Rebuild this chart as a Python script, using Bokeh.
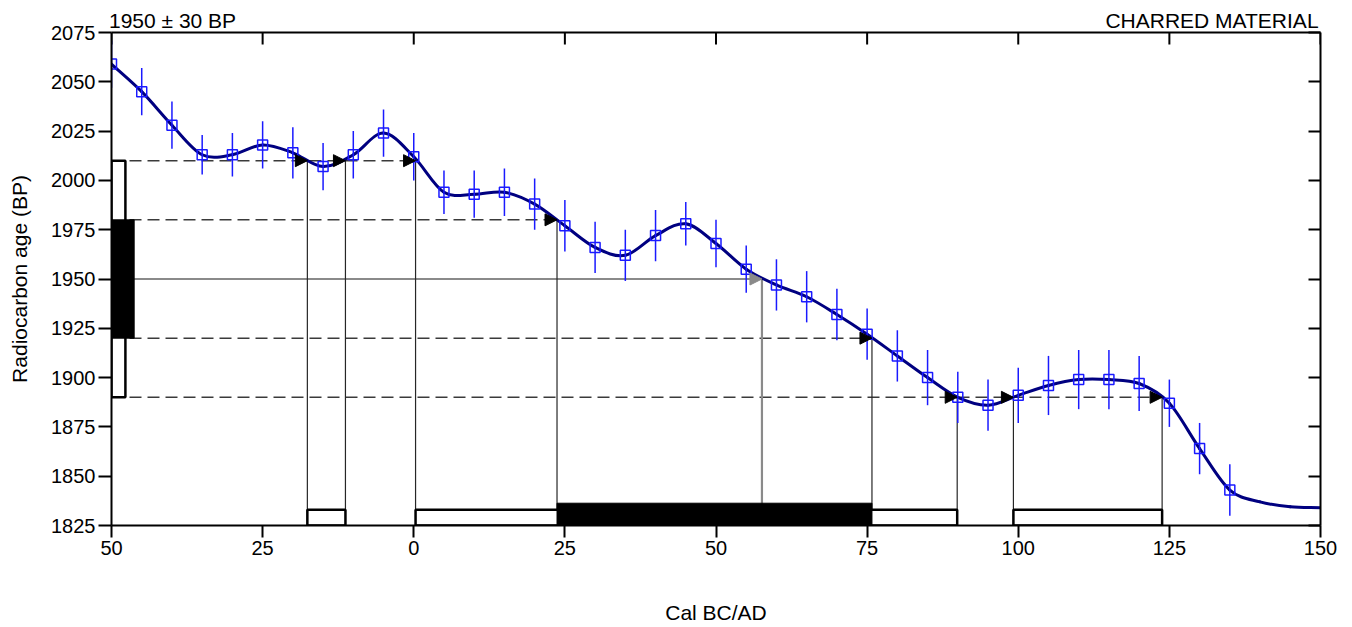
from bokeh.plotting import figure
from bokeh.models import (Range1d, LinearAxis, FixedTicker, Arrow,
                          NormalHead, ColumnDataSource)
from bokeh.embed import file_html
from bokeh.resources import INLINE

# ---------------- data ----------------
cal_years = [-50, -45, -40, -35, -30, -25, -20, -15, -10, -5, 0, 5, 10, 15, 20,
             25, 30, 35, 40, 45, 50, 55, 60, 65, 70, 75, 80, 85, 90, 95, 100,
             105, 110, 115, 120, 125, 130, 135]
bp_values = [2059, 2045, 2028, 2013, 2013, 2018, 2014, 2007, 2013, 2024, 2012,
             1994, 1993, 1994, 1988, 1977, 1966, 1962, 1972, 1978, 1968, 1955,
             1947, 1941, 1932, 1922, 1911, 1900, 1890, 1886, 1891, 1896, 1899,
             1899, 1897, 1887, 1864, 1843]
bp_errors = [12, 12, 12, 10, 11, 12, 13, 12, 12, 12, 12, 11, 12, 12, 13, 13,
             13, 13, 13, 11, 12, 12, 13, 13, 13, 13, 13, 14, 13, 13, 14, 15,
             15, 15, 14, 12, 13, 13]
curve_tail_years = [140, 145, 150]
curve_tail_bp = [1837, 1834.5, 1834]

sample_bp = 1950
sample_err = 30
sample_label = "1950 ± 30 BP"
material_label = "CHARRED MATERIAL"

cross_mean = [57.6]
cross_1s_upper = [23.7]
cross_1s_lower = [75.8]
cross_2s_upper = [-17.6, -11.3, 0.3]
cross_2s_lower = [89.9, 99.2, 123.8]
one_sigma_ranges = [(23.7, 75.8)]
two_sigma_ranges = [(-17.6, -11.3), (0.3, 89.9), (99.2, 123.8)]

x_ticks = [-50, -25, 0, 25, 50, 75, 100, 125, 150]
x_tick_labels = ["50", "25", "0", "25", "50", "75", "100", "125", "150"]
y_ticks = [1825, 1850, 1875, 1900, 1925, 1950, 1975, 2000, 2025, 2050, 2075]

FONT = "Liberation Sans"
X0, X1, Y0, Y1 = -50, 150, 1825, 2075
W, H = 1344, 626
BL, BR, BT, BB = 111, 24, 32, 101
FRAME_H = H - BT - BB
TICK_PX = 12

p = figure(width=W, height=H, x_range=Range1d(X0, X1), y_range=Range1d(Y0, Y1),
           output_backend="svg", toolbar_location=None,
           min_border_left=BL, min_border_right=BR, min_border_top=BT,
           min_border_bottom=BB,
           x_axis_label="Cal BC/AD", y_axis_label="Radiocarbon age (BP)")
p.grid.visible = False
p.outline_line_color = None
p.background_fill_color = "white"
p.border_fill_color = "white"

def style_axis(ax, ticks, inner=False):
    ax.ticker = FixedTicker(ticks=ticks)
    ax.axis_line_width = 2
    ax.axis_line_color = "black"
    ax.major_tick_line_width = 2
    ax.major_tick_line_color = "black"
    ax.minor_tick_line_color = None
    ax.major_label_text_font = FONT
    ax.major_label_text_font_size = "20px"
    ax.major_label_text_color = "black"
    if inner:
        ax.major_tick_in = TICK_PX
        ax.major_tick_out = 0
        ax.major_label_overrides = {t: "" for t in ticks}
        ax.major_label_standoff = 0
    else:
        ax.major_tick_in = 0
        ax.major_tick_out = 13
        ax.major_label_standoff = 3
    ax.axis_label_text_font = FONT
    ax.axis_label_text_font_size = "21px"
    ax.axis_label_text_font_style = "normal"
    ax.axis_label_text_color = "black"

xa = p.xaxis[0]
style_axis(xa, x_ticks)
xa.major_tick_out = 12
xa.major_label_overrides = {t: l for t, l in zip(x_ticks, x_tick_labels)}
xa.axis_label_standoff = 43
ya = p.yaxis[0]
style_axis(ya, y_ticks)
ya.axis_label_standoff = 17

right = LinearAxis()
style_axis(right, y_ticks, inner=True)
p.add_layout(right, "right")

# top axis carries the header texts (sample age left, material right)
header_pos = [-39.9, 132.05]
top = LinearAxis(ticker=FixedTicker(ticks=header_pos),
                 major_label_overrides={header_pos[0]: sample_label, header_pos[1]: material_label})
top.axis_line_width = 2
top.axis_line_color = "black"
top.major_tick_line_color = None
top.minor_tick_line_color = None
top.major_tick_in = 0
top.major_tick_out = 0
top.major_label_standoff = 1
top.major_label_text_font = FONT
top.major_label_text_font_size = "21px"
top.major_label_text_color = "black"
p.add_layout(top, "above")

# inward tick marks along the top edge
tick_len = TICK_PX * (Y1 - Y0) / FRAME_H
p.segment(x0=x_ticks, y0=[Y1] * len(x_ticks), x1=x_ticks, y1=[Y1 - tick_len] * len(x_ticks),
          line_color="black", line_width=2)

lo1, hi1 = sample_bp - sample_err, sample_bp + sample_err
lo2, hi2 = sample_bp - 2 * sample_err, sample_bp + 2 * sample_err

# dashed level lines (to last crossing)
dash_levels = [hi2, hi1, lo1, lo2]
dash_ends = [max(cross_2s_upper), max(cross_1s_upper), max(cross_1s_lower), max(cross_2s_lower)]
p.segment(x0=[X0] * 4, y0=dash_levels, x1=dash_ends, y1=dash_levels,
          line_color="#3a3a3a", line_width=1.5, line_dash="12 6")
# mean line
p.segment(x0=[X0], y0=[sample_bp], x1=cross_mean, y1=[sample_bp],
          line_color="#8a8a8a", line_width=2.2)

# vertical drop lines
vx = cross_2s_upper + cross_1s_upper + cross_1s_lower + cross_2s_lower
vy = [hi2] * len(cross_2s_upper) + [hi1] * len(cross_1s_upper) + \
     [lo1] * len(cross_1s_lower) + [lo2] * len(cross_2s_lower)
p.segment(x0=vx, y0=[Y0] * len(vx), x1=vx, y1=vy, line_color="#262626", line_width=1.2)
p.segment(x0=cross_mean, y0=[Y0], x1=cross_mean, y1=[sample_bp],
          line_color="#8a8a8a", line_width=2.2)

# bottom range boxes
p.quad(left=[a for a, b in two_sigma_ranges], right=[b for a, b in two_sigma_ranges],
       bottom=Y0, top=Y0 + 8, fill_color="white", line_color="black", line_width=2.5)
p.quad(left=[a for a, b in one_sigma_ranges], right=[b for a, b in one_sigma_ranges],
       bottom=Y0, top=Y0 + 11.3, fill_color="black", line_color="black", line_width=1)
# left side boxes
p.quad(left=[X0], right=[X0 + 2.3], bottom=[lo2], top=[hi2],
       fill_color="white", line_color="black", line_width=2.5)
p.quad(left=[X0], right=[X0 + 3.75], bottom=[lo1], top=[hi1],
       fill_color="black", line_color="black", line_width=1)

# calibration curve (Catmull-Rom drawn as bezier segments)
cx = cal_years + curve_tail_years
cy = bp_values + curve_tail_bp
n = len(cx)
px = [2 * cx[0] - cx[1]] + cx + [2 * cx[-1] - cx[-2]]
py = [2 * cy[0] - cy[1]] + cy + [2 * cy[-1] - cy[-2]]
bx0, by0, bx1, by1, c0x, c0y, c1x, c1y = [], [], [], [], [], [], [], []
for i in range(1, n):
    bx0.append(px[i]); by0.append(py[i])
    bx1.append(px[i + 1]); by1.append(py[i + 1])
    c0x.append(px[i] + (px[i + 1] - px[i - 1]) / 6)
    c0y.append(py[i] + (py[i + 1] - py[i - 1]) / 6)
    c1x.append(px[i + 1] - (px[i + 2] - px[i]) / 6)
    c1y.append(py[i + 1] - (py[i + 2] - py[i]) / 6)
p.bezier(x0=bx0, y0=by0, x1=bx1, y1=by1, cx0=c0x, cy0=c0y, cx1=c1x, cy1=c1y,
         line_color="#000080", line_width=3, line_cap="round")

# data points with error bars
lows = [v - e for v, e in zip(bp_values, bp_errors)]
highs = [v + e for v, e in zip(bp_values, bp_errors)]
p.segment(x0=cal_years, y0=lows, x1=cal_years, y1=highs, line_color="#1a1aff", line_width=1.5)
p.scatter(cal_years, bp_values, marker="square", size=10, fill_color=None,
          line_color="#1a1aff", line_width=1.5)

# arrow heads
src = ColumnDataSource(dict(xs=[x - 1 for x in vx], xe=vx, y=vy))
p.add_layout(Arrow(end=NormalHead(size=12, fill_color="black", line_color="black", line_width=1),
                   x_start="xs", y_start="y", x_end="xe", y_end="y", source=src, line_alpha=0))
src2 = ColumnDataSource(dict(xs=[x - 1 for x in cross_mean], xe=cross_mean, y=[sample_bp]))
p.add_layout(Arrow(end=NormalHead(size=12, fill_color="#8a8a8a", line_color="#8a8a8a", line_width=1),
                   x_start="xs", y_start="y", x_end="xe", y_end="y", source=src2, line_alpha=0))

open("out.html", "w").write(file_html(p, INLINE))
